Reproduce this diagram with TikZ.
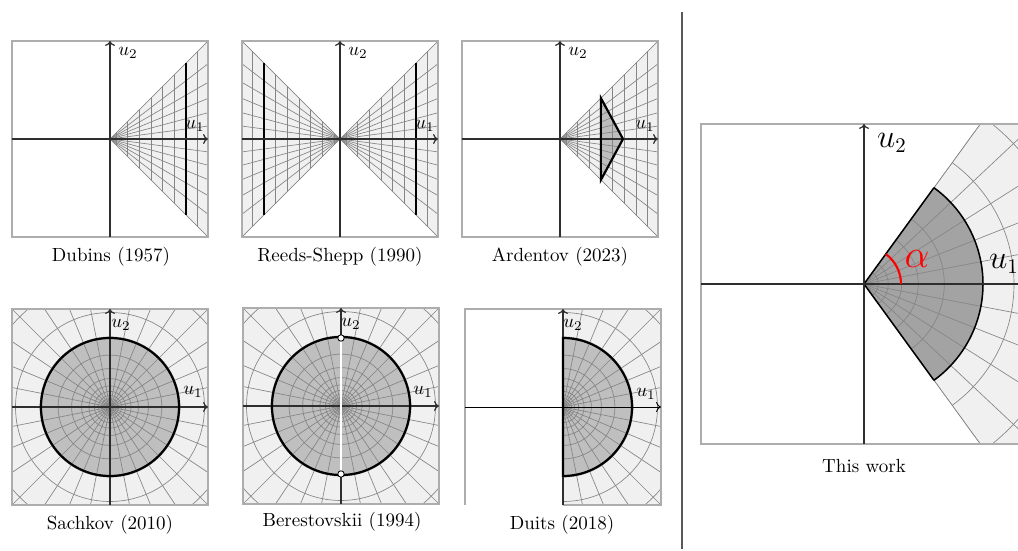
\documentclass[tikz,border=0pt]{standalone}
\usetikzlibrary{arrows.meta}
\definecolor{lightfill}{gray}{0.94}
\definecolor{diskfill}{gray}{0.75}
\definecolor{kitefill}{gray}{0.74}
\definecolor{sectorfill}{gray}{0.64}
\definecolor{gridcol}{gray}{0.52}
\definecolor{framecol}{gray}{0.68}
\definecolor{axiscol}{gray}{0.18}
\definecolor{sepcol}{gray}{0.35}
\tikzset{
  gridline/.style={gridcol, line width=0.35pt},
  framebox/.style={framecol, line width=0.6pt},
  axisline/.style={axiscol, line width=0.65pt},
  axisarrow/.style={axisline, -{To[length=2.6pt,width=5.2pt]}},
  boundary/.style={black, line width=1.15pt},
  smalllabel/.style={inner sep=0pt, font=\normalsize},
  biglabel/.style={inner sep=0pt, font=\fontsize{16}{19}\selectfont},
  alphalabel/.style={inner sep=0pt, red, font=\fontsize{22}{26}\selectfont},
  caption/.style={inner sep=0pt, font=\normalsize},
}
\newcommand{\conefill}{\fill[lightfill] (0,0) -- (98,-98) -- (98,98) -- cycle;}
\newcommand{\conelines}{%
  \begin{scope}
    \clip (0,0) -- (98,-98) -- (98,98) -- cycle;
    \foreach \k in {0,...,7} \draw[gridline] ({(\k+0.5)*11.69},-98) -- ({(\k+0.5)*11.69},98);
    \foreach \k in {-6,...,6} \draw[gridline] (0,0) -- ({\k*7.5}:150);
  \end{scope}
  \draw[gridline] (98,-98) -- (0,0) -- (98,98);
}
\newcommand{\polarlines}{%
  \foreach \rad in {4.7,6.3,8.6,11.6,15.6,21.1,28.4,38.4,51.9,70,94.5,127.6}
    \draw[gridline] (0,0) circle[radius=\rad];
  \foreach \k in {0,...,31} \draw[gridline] (0,0) -- ({\k*11.25}:150);
}
\begin{document}
\begin{tikzpicture}[x=0.5263pt, y=-0.5263pt]
\useasboundingbox (0,0) rectangle (1018,551);
\clip (0,0) rectangle (1018,551);

% ---------- Dubins ----------
\begin{scope}[shift={(110,139)}]
  \conefill
  \conelines
  \draw[framebox] (-98,-98) rectangle (98,98);
  \draw[boundary] (76,-76) -- (76,76);
  \draw[axisarrow] (-98,0) -- (98,0);
  \draw[axisarrow] (0,98) -- (0,-98);
\end{scope}
\node[smalllabel] (du2) at (128,53) {$u_2$};
\node[smalllabel] (du1) at (195,126) {$u_1$};
\node[caption] (dcap) at (111,257) {Dubins (1957)};

% ---------- Reeds-Shepp ----------
\begin{scope}[shift={(340,139)}]
  \conefill
  \conelines
  \begin{scope}[xscale=-1]
    \conefill
    \conelines
  \end{scope}
  \draw[framebox] (-98,-98) rectangle (98,98);
  \draw[boundary] (76,-76) -- (76,76);
  \draw[boundary] (-76,-76) -- (-76,76);
  \draw[axisarrow] (-98,0) -- (98,0);
  \draw[axisarrow] (0,98) -- (0,-98);
\end{scope}
\node[smalllabel] (ru2) at (358,53) {$u_2$};
\node[smalllabel] (ru1) at (425,126) {$u_1$};
\node[caption] (rcap) at (340,257) {Reeds-Shepp (1990)};

% ---------- Ardentov ----------
\begin{scope}[shift={(560,139)}]
  \conefill
  \fill[kitefill] (40.9,-40.9) -- (63,0) -- (40.9,40.9) -- cycle;
  \conelines
  \draw[framebox] (-98,-98) rectangle (98,98);
  \draw[axisarrow] (-98,0) -- (98,0);
  \draw[axisarrow] (0,98) -- (0,-98);
  \draw[boundary, line join=miter] (40.9,-40.9) -- (63,0) -- (40.9,40.9) -- cycle;
\end{scope}
\node[smalllabel] (au2) at (578,53) {$u_2$};
\node[smalllabel] (au1) at (645,126) {$u_1$};
\node[caption] (acap) at (560,257) {Ardentov (2023)};

% ---------- Sachkov ----------
\begin{scope}[shift={(110,407)}]
  \fill[lightfill] (-98,-98) rectangle (98,98);
  \fill[diskfill] (0,0) circle[radius=69];
  \begin{scope}
    \clip (-98,-98) rectangle (98,98);
    \polarlines
  \end{scope}
  \draw[framebox] (-98,-98) rectangle (98,98);
  \draw[axisarrow] (-98,0) -- (98,0);
  \draw[axisarrow] (0,98) -- (0,-98);
  \draw[boundary] (0,0) circle[radius=69];
\end{scope}
\node[smalllabel] (su2) at (121,325) {$u_2$};
\node[smalllabel] (su1) at (193,392) {$u_1$};
\node[caption] (scap) at (110,525) {Sachkov (2010)};

% ---------- Berestovskii ----------
\begin{scope}[shift={(341,406)}]
  \fill[lightfill] (-98,-98) rectangle (98,98);
  \fill[diskfill] (0,0) circle[radius=69];
  \begin{scope}
    \clip (-98,-98) rectangle (98,98);
    \polarlines
  \end{scope}
  \draw[framebox] (-98,-98) rectangle (98,98);
  \draw[axisarrow] (-98,0) -- (98,0);
  \draw[axisarrow] (0,98) -- (0,-98);
  \draw[boundary] (0,0) circle[radius=69];
  \draw[black, line width=1.5pt] (0,-68) -- (0,68);
  \draw[white, line width=0.8pt] (0,-68) -- (0,68);
  \draw[black, line width=0.45pt, fill=white] (0,-68) circle[radius=3.2];
  \draw[black, line width=0.45pt, fill=white] (0,68) circle[radius=3.2];
\end{scope}
\node[smalllabel] (bu2) at (351,324) {$u_2$};
\node[smalllabel] (bu1) at (423,392) {$u_1$};
\node[caption] (bcap) at (342,522) {Berestovskii (1994)};

% ---------- Duits ----------
\begin{scope}[shift={(563,407)}]
  \fill[lightfill] (0,-98) rectangle (98,98);
  \fill[diskfill] (0,-69) arc[start angle=-90, end angle=90, radius=69] -- cycle;
  \begin{scope}
    \clip (0,-98) rectangle (98,98);
    \polarlines
  \end{scope}
  \draw[framebox] (0,98) -- (98,98) -- (98,-98) -- (-98,-98) -- (-98,98);
  \draw[black, line width=0.5pt, -{To[length=2.6pt,width=5.2pt]}] (-98,0) -- (98,0);
  \draw[axisarrow] (0,98) -- (0,-98);
  \draw[boundary] (0,-69) arc[start angle=-90, end angle=90, radius=69] -- cycle;
\end{scope}
\node[smalllabel] (tu2) at (573,325) {$u_2$};
\node[smalllabel] (tu1) at (646,394) {$u_1$};
\node[caption] (tcap) at (562,525) {Duits (2018)};

% ---------- separator ----------
\draw[sepcol, line width=0.6pt] (682,12) -- (682,549);

% ---------- This work ----------
\begin{scope}[shift={(864,284)}]
  \begin{scope}
    \clip (-163,-160) rectangle (200,160);
    \fill[lightfill] (0,0) -- (-54:400) -- (54:400) -- cycle;
    \fill[sectorfill] (0,0) -- (-54:119) arc[start angle=-54, end angle=54, radius=119] -- cycle;
    \draw[gridline] (-54:400) -- (0,0) -- (54:400);
    \clip (0,0) -- (-54:400) -- (54:400) -- cycle;
    \foreach \rad in {14.3,24.3,37.7,54.3,80.3,118.7,150,205,270}
      \draw[gridline] (0,0) circle[radius=\rad];
    \foreach \k in {-5,...,5} \draw[gridline] (0,0) -- ({\k*10.8}:400);
  \end{scope}
  \draw[framebox] (-163,-160) rectangle (163,160);
  \draw[black, line width=0.8pt] (-54:119) -- (0,0) -- (54:119);
  \draw[black, line width=0.8pt] (-54:119) arc[start angle=-54, end angle=54, radius=119];
  \draw[axisline] (-163,0) -- (163,0);
  \draw[axisarrow] (0,160) -- (0,-160);
  \draw[red, line width=1.1pt] (0:37) arc[start angle=0, end angle=-54, radius=37];
\end{scope}
\node[biglabel] (wu2) at (892,143) {$u_2$};
\node[biglabel] (wu1) at (1004,264) {$u_1$};
\node[alphalabel] (alpha) at (917,259) {$\alpha$};
\node[caption] (wcap) at (864,466) {This work};
\end{tikzpicture}
\end{document}
